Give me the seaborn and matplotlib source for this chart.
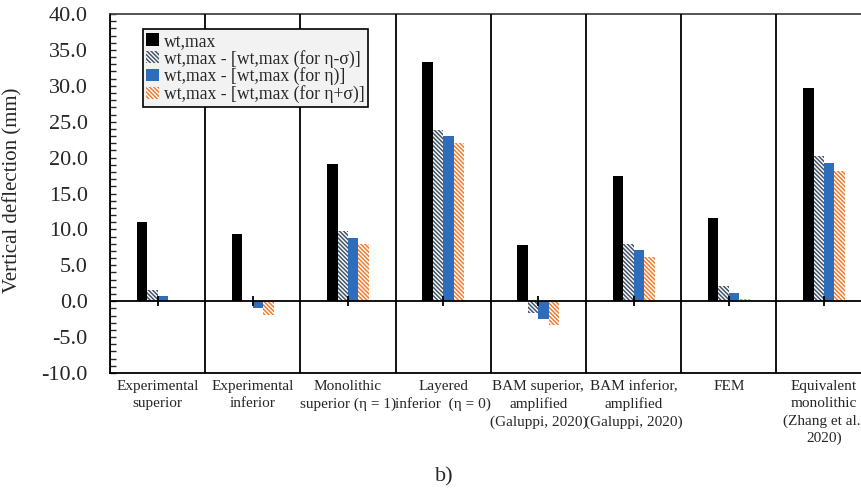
import numpy as np
import pandas as pd
import matplotlib
matplotlib.use('Agg')
import matplotlib.pyplot as plt
import seaborn as sns
from matplotlib.ticker import MultipleLocator, FormatStrFormatter

# data
categories = [
    'Experimental\nsuperior',
    'Experimental\ninferior',
    'Monolithic\nsuperior (η = 1)',
    'Layered\ninferior  (η = 0)',
    'BAM superior,\namplified\n(Galuppi, 2020)',
    'BAM inferior,\namplified\n(Galuppi, 2020)',
    'FEM',
    'Equivalent\nmonolithic\n(Zhang et al.,\n2020)',
]
wt_max = [11.1, 9.4, 19.1, 33.3, 7.8, 17.4, 11.6, 29.7]
diff_minus = [1.6, 0.0, 9.8, 23.8, -1.6, 8.0, 2.1, 20.2]
diff_eta = [0.7, -0.9, 8.8, 23.0, -2.5, 7.2, 1.2, 19.2]
diff_plus = [0.0, -1.9, 7.9, 22.0, -3.3, 6.2, 0.3, 18.2]

series_names = [
    'wt,max',
    'wt,max - [wt,max (for η-σ)]',
    'wt,max - [wt,max (for η)]',
    'wt,max - [wt,max (for η+σ)]',
]
series_colors = ['#000000', '#44546a', '#2e6cbc', '#f47d30']
series_hatch = [None, '\\' * 8, None, '\\' * 8]

df = pd.DataFrame({
    'category': categories * 4,
    'series': np.repeat(series_names, len(categories)),
    'value': wt_max + diff_minus + diff_eta + diff_plus,
})

sns.set_style('white')
plt.rcParams['font.family'] = ['Liberation Serif', 'DejaVu Serif']
plt.rcParams['axes.unicode_minus'] = False
plt.rcParams['hatch.linewidth'] = 1.1

fig = plt.figure(figsize=(8.62, 4.92), dpi=100)
ax = fig.add_axes([110 / 862, 1 - 373 / 492, 761.6 / 862, 359 / 492])

sns.barplot(data=df, x='category', y='value', hue='series', order=categories,
            hue_order=series_names, palette=series_colors, width=0.44, gap=0,
            saturation=1, ax=ax, legend=False)

# style each series (hatched ones: coloured stripes on white)
for cont, col, h in zip(ax.containers, series_colors, series_hatch):
    for p in cont.patches:
        p.set_linewidth(0)
        if h:
            p.set_facecolor('white')
            p.set_edgecolor(col)
            p.set_hatch(h)
        else:
            p.set_facecolor(col)

n = len(categories)
ax.set_xlim(-0.5, n - 0.5)
ax.set_ylim(-10, 40)

# category separators and zero line
for b in np.arange(-0.5, n, 1.0):
    ax.axvline(b, color='black', lw=1.3, zorder=3)
ax.axhline(0, color='black', lw=1.3, zorder=3)
ax.plot(np.arange(n), np.zeros(n), ls='none', marker='|', ms=7, mew=1.3,
        color='black', zorder=4)

for s in ax.spines.values():
    s.set_color('black')
    s.set_linewidth(1.3)
ax.spines['top'].set_color('#444444')

ax.yaxis.set_major_locator(MultipleLocator(5))
ax.yaxis.set_minor_locator(MultipleLocator(1))
ax.yaxis.set_major_formatter(FormatStrFormatter('%.1f'))
ax.tick_params(axis='y', which='both', direction='in', length=4, width=1,
               left=True, labelsize=16, pad=16)
ax.tick_params(axis='x', length=0, labelsize=11, pad=5)
ax.set_xticks(range(n))
ax.set_xticklabels(categories, linespacing=1.4)

ax.set_xlabel('')
ax.set_ylabel('Vertical deflection (mm)', fontsize=15)
ax.yaxis.set_label_coords(-0.1155, 0.51)

handles = [plt.Rectangle((0, 0), 1, 1, facecolor='white' if h else c,
                         edgecolor=c if h else 'none', hatch=h, lw=0)
           for c, h in zip(series_colors, series_hatch)]
leg = ax.legend(handles, series_names, loc='upper left',
                bbox_to_anchor=(0.043, 0.958), borderaxespad=0,
                fontsize=12.7, frameon=True, fancybox=False,
                handlelength=0.7, handleheight=0.7, handletextpad=0.3,
                labelspacing=0.0, borderpad=0.2)
leg.get_frame().set_facecolor('#f2f2f2')
leg.get_frame().set_edgecolor('black')
leg.get_frame().set_linewidth(1.2)
leg.get_frame().set_alpha(1)
leg.set_zorder(5)

fig.text(444 / 862, 1 - 477 / 492, 'b)', fontsize=16, ha='center', va='center')

fig.savefig('out.png', dpi=100)
